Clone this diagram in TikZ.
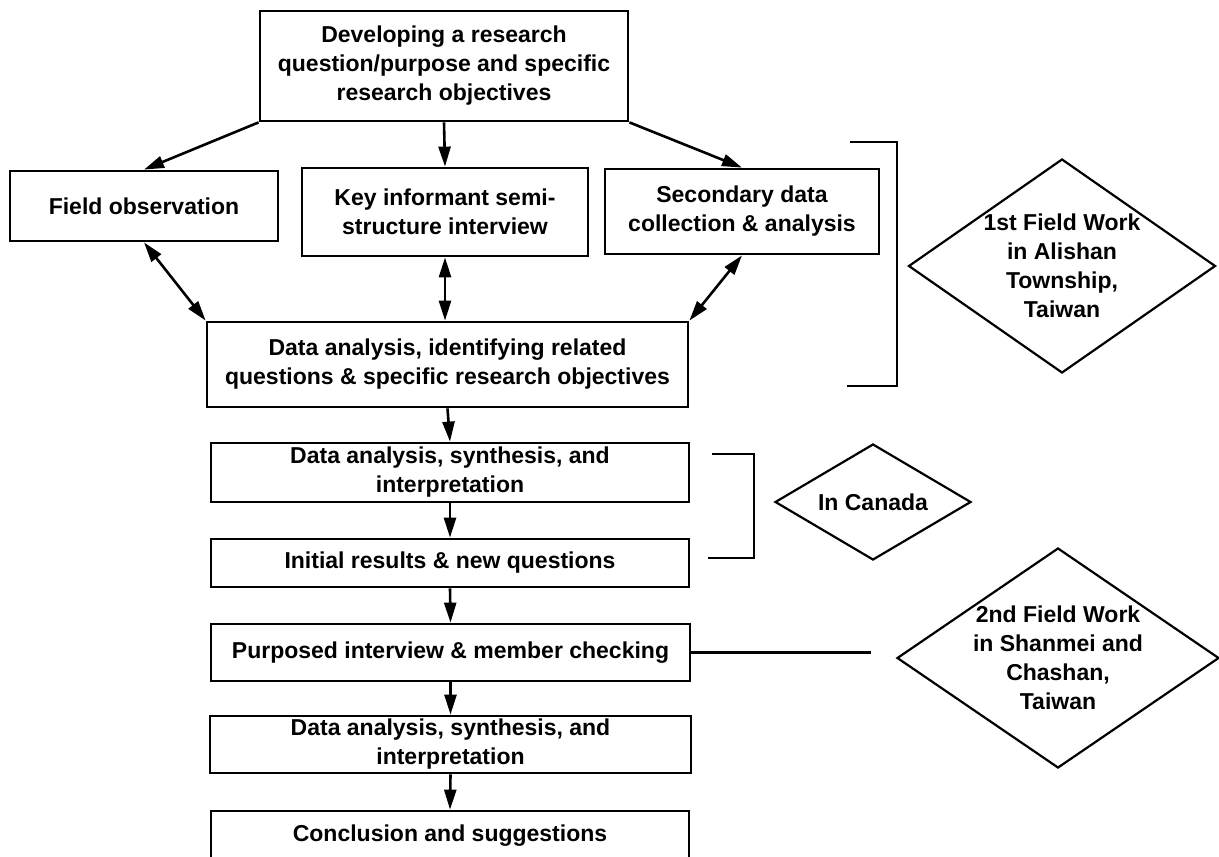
\documentclass[tikz,border=0pt]{standalone}
\usepackage{fontspec}
\setmainfont{Liberation Sans}
\usepackage{tikz}
\usetikzlibrary{arrows.meta,shapes.geometric}

\tikzset{
	stage/.style={draw, line width=1.4pt, inner sep=1pt, align=center},
	zone/.style={draw, diamond, line width=1.1pt, inner sep=0pt},
	zonetext/.style={align=center, inner sep=0pt},
	arr/.style={-{Triangle[length=10pt,width=6pt]}, line width=1.3pt},
	darr/.style={{Triangle[length=10pt,width=6pt]}-{Triangle[length=10pt,width=6pt]}, line width=1.3pt},
	brace/.style={line width=1.3pt}
}

\begin{document}
\begin{tikzpicture}[x=0.5pt, y=-0.5pt, font=\bfseries\fontsize{11.5pt}{14.5pt}\selectfont]
	\clip (0,0) rectangle (1219,856);

	% Research question
	\node[stage, minimum width=184pt, minimum height=55pt] (quest) at (444,66)
		{Developing a research\\question/purpose and specific\\research objectives};

	% First field work
	\node[stage, minimum width=134pt, minimum height=35pt] (observ) at (144,206) {Field observation};
	\node[stage, minimum width=143pt, minimum height=44pt] (keyinf) at (445,212)
		{Key informant semi-\\structure interview};
	\node[stage, minimum width=137pt, minimum height=42.5pt] (second) at (742,211.5)
		{Secondary data\\collection \& analysis};
	\node[stage, minimum width=240.5pt, minimum height=42.5pt] (anaA) at (447.5,364.5)
		{Data analysis, identifying related\\questions \& specific research objectives};

	% In Canada
	\node[stage, minimum width=239pt, minimum height=29.5pt] (anaB) at (450,472.5)
		{Data analysis, synthesis, and\\interpretation};
	\node[stage, minimum width=239pt, minimum height=24pt] (initres) at (450,563)
		{Initial results \& new questions};

	% Second field work
	\node[stage, minimum width=239.5pt, minimum height=28.5pt] (purpint) at (450.5,652.5)
		{Purposed interview \& member checking};
	\node[stage, minimum width=240.5pt, minimum height=28.5pt] (anaC) at (450.5,744.5)
		{Data analysis, synthesis, and\\interpretation};
	\node[stage, minimum width=239pt, minimum height=25pt] (concl) at (450,836)
		{Conclusion and suggestions};

	% Diamonds
	\node[zone, minimum width=153.5pt, minimum height=107pt] (fieldA) at (1062,266) {};
	\node[zonetext] (fieldAtxt) at (fieldA) {1st Field Work\\in Alishan\\Township,\\Taiwan};
	\node[zone, minimum width=98pt, minimum height=58pt] (canada) at (873,502) {};
	\node[zonetext] (canadatxt) at (canada) {In Canada};
	\node[zone, minimum width=161pt, minimum height=110pt] (fieldB) at (1058,658) {};
	\node[zonetext] (fieldBtxt) at (fieldB) {2nd Field Work\\in Shanmei and\\Chashan,\\Taiwan};

	% Brackets
	\draw[brace] (850,142) -- (897,142) -- (897,386) -- (847,386);
	\draw[brace] (712,454) -- (754,454) -- (754,558) -- (708,558);
	\coordinate (linkend) at (871,652.5);
	\draw[brace] (purpint.east) -- (linkend);

	% Arrows
	\draw[arr] (quest.south west) -- (observ.north);
	\draw[arr] (quest.south) -- (keyinf.north);
	\draw[arr] (quest.south east) -- (second.north);
	\draw[darr] (observ.south) -- (anaA.north west);
	\draw[darr] (keyinf.south) -- (keyinf.south |- anaA.north);
	\draw[darr] (second.south) -- (anaA.north east);
	\draw[arr] (anaA.south) -- (anaB.north);
	\draw[arr] (anaB.south) -- (initres.north);
	\draw[arr] (initres.south) -- (purpint.north);
	\draw[arr] (purpint.south) -- (anaC.north);
	\draw[arr] (anaC.south) -- (concl.north);
\end{tikzpicture}
\end{document}
